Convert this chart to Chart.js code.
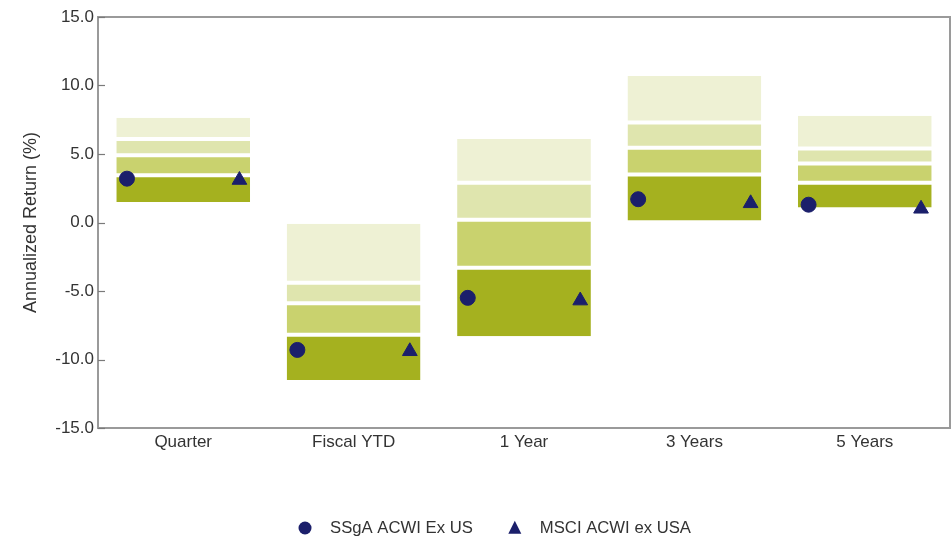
<!DOCTYPE html>
<html>
<head>
<meta charset="utf-8">
<script src="https://cdn.jsdelivr.net/npm/chart.js@4.4.1/dist/chart.umd.min.js"></script>
<style>
    html, body { margin: 0; padding: 0; background: #fff; overflow: hidden; }
    #wrap { width: 952px; height: 541px; position: relative; }
    canvas { display: block; }
</style>
</head>
<body>
<div id="wrap"><canvas id="universeChart"></canvas></div>
<script>
const categories = ["Quarter", "Fiscal YTD", "1 Year", "3 Years", "5 Years"];

// universe percentile breakpoints (5th = best, 95th = worst)
const p5 = [7.65, -0.1, 6.1, 10.7, 7.8];
const p25 = [6.1, -4.4, 2.9, 7.3, 5.4];
const median = [4.9, -5.9, 0.2, 5.45, 4.3];
const p75 = [3.45, -8.2, -3.3, 3.5, 2.9];
const p95 = [1.5, -11.5, -8.3, 0.15, 1.1];

const ssgaReturns = [3.2, -9.3, -5.5, 1.7, 1.3];
const msciReturns = [3.1, -9.4, -5.7, 1.4, 1.0];

const yTicks = [-15, -10, -5, 0, 5, 10, 15];

const textColor = "#333333";
const markerColor = "#1b1f6b";
const fontFamily = "'Liberation Sans', Arial, sans-serif";

function band(lowArr, highArr) {
    return categories.map((c, i) => [lowArr[i], highArr[i]]);
}

function bandDataset(label, lowArr, highArr, color, border) {
    return {
        type: "bar",
        label,
        data: band(lowArr, highArr),
        backgroundColor: color,
        borderColor: "#ffffff",
        borderWidth: border,
        borderSkipped: false,
        grouped: false,
        categoryPercentage: 1,
        barPercentage: 0.785,
        xAxisID: "x",
        order: 2,
        showInLegend: false
    };
}

// plot frame plus short inward tick marks on the y axis
const framePlugin = {
    id: "frame",
    afterDatasetsDraw(chart) {
        const { ctx, chartArea } = chart;
        const yScale = chart.scales.y;
        ctx.save();
        ctx.strokeStyle = "#9a9a9a";
        ctx.lineWidth = 2;
        ctx.strokeRect(chartArea.left, chartArea.top, chartArea.right - chartArea.left, chartArea.bottom - chartArea.top);
        ctx.lineWidth = 1.2;
        ctx.strokeStyle = "#7a7a7a";
        yScale.ticks.forEach(t => {
            const y = Math.round(yScale.getPixelForValue(t.value)) + 0.5;
            ctx.beginPath();
            ctx.moveTo(chartArea.left, y);
            ctx.lineTo(chartArea.left + 7, y);
            ctx.stroke();
        });
        ctx.restore();
    }
};

// legend with wider marker/text spacing than the built-in one allows
const markerLegendPlugin = {
    id: "markerLegend",
    afterDraw(chart, args, opts) {
        const { ctx } = chart;
        const items = chart.data.datasets.filter(d => d.showInLegend);
        ctx.save();
        ctx.font = `${opts.fontSize}px ${fontFamily}`;
        ctx.textBaseline = "middle";
        const widths = items.map(d => opts.textGap + ctx.measureText(d.label).width);
        const total = widths.reduce((s, w) => s + w, 0) + opts.itemGap * (items.length - 1) + opts.size;
        let x = opts.centerX - total / 2 + opts.size / 2;
        const y = opts.y;
        items.forEach((d, i) => {
            ctx.fillStyle = d.backgroundColor;
            ctx.beginPath();
            if (d.pointStyle === "triangle") {
                const s = opts.size;
                ctx.moveTo(x, y - s * 0.55);
                ctx.lineTo(x + s / 2, y + s * 0.45);
                ctx.lineTo(x - s / 2, y + s * 0.45);
                ctx.closePath();
            } else {
                ctx.arc(x, y, opts.size / 2, 0, Math.PI * 2);
            }
            ctx.fill();
            ctx.fillStyle = textColor;
            ctx.textAlign = "left";
            ctx.fillText(d.label, x + opts.textGap, y);
            x += widths[i] + opts.itemGap;
        });
        ctx.restore();
    }
};

const ctx = document.getElementById("universeChart").getContext("2d");

new Chart(ctx, {
    data: {
        labels: categories,
        datasets: [
            bandDataset("5th - 25th", p25, p5, "#eef1d4", { top: 0, bottom: 2, left: 0, right: 0 }),
            bandDataset("25th - Median", median, p25, "#dfe5ae", { top: 2, bottom: 2, left: 0, right: 0 }),
            bandDataset("Median - 75th", p75, median, "#c9d26e", { top: 2, bottom: 2, left: 0, right: 0 }),
            bandDataset("75th - 95th", p95, p75, "#a5b11f", { top: 2, bottom: 0, left: 0, right: 0 }),
            {
                type: "scatter",
                label: "SSgA ACWI Ex US",
                data: ssgaReturns.map((v, i) => ({ x: i - 0.33, y: v })),
                pointStyle: "circle",
                pointRadius: 7.5,
                backgroundColor: markerColor,
                borderColor: markerColor,
                xAxisID: "x2",
                order: 1,
                showInLegend: true
            },
            {
                type: "scatter",
                label: "MSCI ACWI ex USA",
                data: msciReturns.map((v, i) => ({ x: i + 0.33, y: v })),
                pointStyle: "triangle",
                pointRadius: 8.5,
                backgroundColor: markerColor,
                borderColor: markerColor,
                xAxisID: "x2",
                order: 1,
                showInLegend: true
            }
        ]
    },
    options: {
        responsive: true,
        maintainAspectRatio: false,
        animation: false,
        layout: { autoPadding: false, padding: { top: 17, right: 2, left: 0, bottom: 73 } },
        plugins: {
            legend: { display: false },
            tooltip: { enabled: false },
            markerLegend: { centerX: 498, y: 528, size: 13, textGap: 25, itemGap: 42, fontSize: 16.7 }
        },
        scales: {
            x: {
                type: "category",
                offset: true,
                grid: { display: false, drawTicks: false },
                border: { display: false },
                ticks: { color: textColor, font: { family: fontFamily, size: 17 }, padding: 4 },
                afterFit: scale => { scale.height = 40; }
            },
            x2: {
                type: "linear",
                display: false,
                min: -0.5,
                max: categories.length - 0.5
            },
            y: {
                min: yTicks[0],
                max: yTicks[yTicks.length - 1],
                afterBuildTicks: scale => { scale.ticks = yTicks.map(v => ({ value: v })); },
                grid: { display: false, drawTicks: false },
                border: { display: false },
                ticks: {
                    color: textColor,
                    font: { family: fontFamily, size: 17 },
                    padding: 4,
                    callback: v => Number(v).toFixed(1)
                },
                title: {
                    display: true,
                    text: "Annualized Return (%)",
                    color: textColor,
                    font: { family: fontFamily, size: 18 },
                    padding: { top: 20, bottom: 0 }
                },
                afterFit: scale => { scale.width = 98; }
            }
        }
    },
    plugins: [framePlugin, markerLegendPlugin]
});
</script>
</body>
</html>
